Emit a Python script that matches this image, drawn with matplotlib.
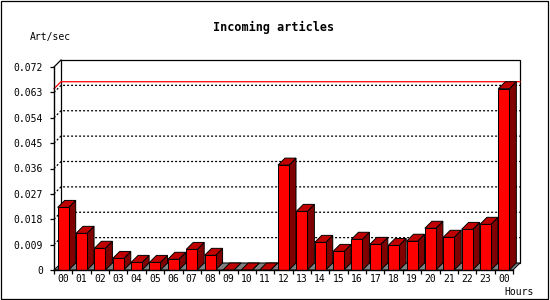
import matplotlib
matplotlib.use('Agg')
import matplotlib.pyplot as plt
from matplotlib.patches import Polygon, Rectangle

hours = ['00', '01', '02', '03', '04', '05', '06', '07', '08', '09', '10', '11',
         '12', '13', '14', '15', '16', '17', '18', '19', '20', '21', '22', '23', '00']
rates = [0.0222, 0.0130, 0.0077, 0.0041, 0.0027, 0.0027, 0.0038, 0.0073, 0.0052,
         0.0, 0.0, 0.0, 0.0372, 0.0208, 0.0098, 0.0066, 0.0109, 0.0091, 0.0087,
         0.0102, 0.0148, 0.0116, 0.0144, 0.0162, 0.0643]
yticks = [0, 0.009, 0.018, 0.027, 0.036, 0.045, 0.054, 0.063, 0.072]
ytick_labels = ['0', '0.009', '0.018', '0.027', '0.036', '0.045', '0.054', '0.063', '0.072']

mono = 'DejaVu Sans Mono'
W, H = 550, 300
fig = plt.figure(figsize=(W / 100, H / 100), dpi=100)
ax = fig.add_axes([54 / W, 30 / H, 459 / W, 203 / H])
n = len(rates)
ymax = 0.072
ax.set_xlim(0, n)
ax.set_ylim(0, ymax)

# 7 pixel depth, turned into data units
depth = 7
dx = depth * n / 459
dy = depth * ymax / 203

# back wall
ax.add_patch(Rectangle((dx, dy), n, ymax, facecolor='white', edgecolor='black',
                       lw=0.9, clip_on=False, zorder=1))
for v in yticks[1:-1]:
    ax.plot([0, dx, n + dx], [v, v + dy, v + dy], color='black', lw=0.9,
            ls=(0, (1.6, 1.6)), clip_on=False, zorder=1.5)
# left side of the box
ax.plot([0, dx], [ymax, ymax + dy], color='black', lw=0.9, clip_on=False, zorder=2)

# floor
ax.add_patch(Polygon([(0, 0), (n, 0), (n + dx, dy), (dx, dy)], closed=True,
                     facecolor='#808080', edgecolor='black', lw=0.7,
                     clip_on=False, zorder=2))

# max line
top = max(rates)
ax.plot([0, dx, n + dx], [top, top + dy, top + dy], color='red', lw=0.9,
        clip_on=False, zorder=1.6)

# bars
bw = 0.6
for i, v in enumerate(rates):
    x0 = i + 0.5 - bw / 2
    x1 = x0 + bw
    ax.add_patch(Polygon([(x1, 0), (x1 + dx, dy), (x1 + dx, v + dy), (x1, v)],
                         closed=True, facecolor='#800000', edgecolor='black',
                         lw=0.7, clip_on=False, zorder=3))
    ax.add_patch(Polygon([(x0, v), (x1, v), (x1 + dx, v + dy), (x0 + dx, v + dy)],
                         closed=True, facecolor='#c00000', edgecolor='black',
                         lw=0.7, clip_on=False, zorder=3))
    ax.add_patch(Rectangle((x0, 0), bw, v, facecolor='red', edgecolor='black',
                           lw=0.7, clip_on=False, zorder=3))

for s in ['top', 'right']:
    ax.spines[s].set_visible(False)
for s in ['left', 'bottom']:
    ax.spines[s].set_linewidth(1.0)
    ax.spines[s].set_zorder(4)

ax.set_yticks(yticks)
ax.set_yticklabels(ytick_labels, fontfamily=mono, fontsize=7)
ax.set_xticks(range(n + 1))
ax.set_xticklabels([''] * (n + 1))
ax.set_xticks([i + 0.5 for i in range(n)], minor=True)
ax.set_xticklabels(hours, minor=True, fontfamily=mono, fontsize=7)
ax.tick_params(axis='y', length=3, width=0.9, pad=5)
ax.tick_params(axis='x', which='major', length=3, width=0.9)
ax.tick_params(axis='x', which='minor', length=0, pad=3)

fig.text(274 / W, 1 - 27 / H, 'Incoming articles', ha='center', va='center',
         fontfamily=mono, fontsize=8.5, fontweight='bold')
fig.text(30 / W, 1 - 37 / H, 'Art/sec', ha='left', va='center',
         fontfamily=mono, fontsize=7)
fig.text(534 / W, 1 - 292 / H, 'Hours', ha='right', va='center',
         fontfamily=mono, fontsize=7)

fig.add_artist(Rectangle((0.5 / W, 1.5 / H), 547 / W, 298 / H, fill=False,
                         edgecolor='black', lw=0.9, transform=fig.transFigure))

fig.savefig('out.png', dpi=100)
